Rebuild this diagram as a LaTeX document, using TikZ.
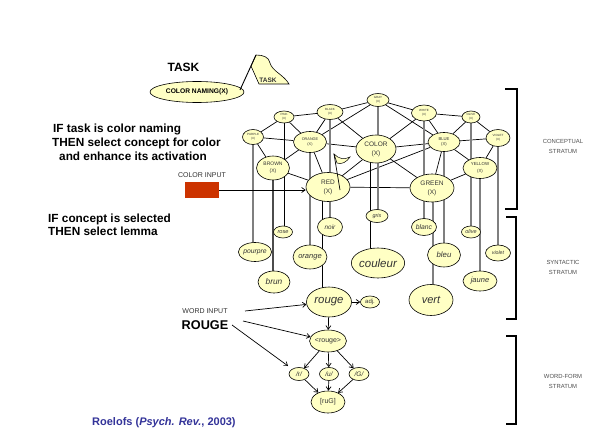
\documentclass[tikz,border=0pt]{standalone}
\usepackage{fontspec}
\setmainfont{Liberation Sans}
\usetikzlibrary{shapes.geometric,arrows.meta,backgrounds}
\newcommand{\fsz}[2]{\fontsize{#1}{#2}\selectfont}
\definecolor{ycol}{HTML}{FFFFC4}
\definecolor{txtc}{HTML}{333333}
\definecolor{redbox}{HTML}{CC3300}
\definecolor{citec}{HTML}{333399}
\definecolor{glin}{HTML}{7F7F7F}
\definecolor{stc}{HTML}{505050}
\begin{document}
\begin{tikzpicture}[x=1pt,y=-1pt,
  cn/.style 2 args={ellipse,draw,fill=ycol,line width=0.6pt,inner sep=0pt,
     minimum width=#1pt,minimum height=#2pt,text=txtc,align=center},
  cl/.style={line width=0.7pt},
  vl/.style={line width=1.1pt,draw=glin},
  vk/.style={line width=0.8pt,draw=black},
  ar/.style={-{Straight Barb[length=3.5pt,width=5pt]},line width=0.7pt},
  bigtxt/.style={font=\bfseries\fsz{11.8}{14},anchor=base west,inner sep=0pt},
  bkt/.style={line width=1.2pt},
  stl/.style={text=stc,font=\fsz{5.9}{10},align=center}]
\useasboundingbox (0,0) rectangle (592,444);

% task
\node[bigtxt,anchor=center,font=\bfseries\fsz{12}{14}] (tasklbl) at (183.5,67.5) {TASK};
\node[cn={94}{21},font=\bfseries\fsz{6.7}{8},text=black] (task) at (197,92) {COLOR NAMING(X)};
\draw[fill=ycol,line width=0.6pt] (256,55) .. controls (263,55) and (269,57) .. (270,63)
   .. controls (272,71) and (284,75) .. (289,84) -- (259,84) -- (251,66) -- cycle;
\node[font=\bfseries\fsz{6.5}{8},text=txtc,inner sep=0pt] (flagtxt) at (268,80) {TASK};
\draw[line width=0.9pt] (240,90) -- (256,55);

% rules text
\node[bigtxt] (if1) at (53,132) {IF task is color naming};
\node[bigtxt] (if2) at (52,146.5) {THEN select concept for color};
\node[bigtxt] (if3) at (59,160.5) {and enhance its activation};
\node[bigtxt] (if4) at (48,222) {IF concept is selected};
\node[bigtxt] (if5) at (48,235.5) {THEN select lemma};

% conceptual stratum
\node[cn={22}{13},font=\fsz{3}{3.8}] (GRAY) at (378,100) {GRAY\\(X)};
\node[cn={26}{15},font=\fsz{3}{3.8}] (BLACK) at (330,112) {BLACK\\(X)};
\node[cn={25}{16},font=\fsz{3}{3.8}] (WHITE) at (424,113) {WHITE\\(X)};
\node[cn={20}{12},font=\fsz{3}{3.8}] (PINK) at (284,117) {PINK\\(X)};
\node[cn={18}{12},font=\fsz{3}{3.8}] (OLIVE) at (471,117) {OLIVE\\(X)};
\node[cn={21}{15},font=\fsz{3}{3.8}] (PURPLE) at (253,137) {PURPLE\\(X)};
\node[cn={24}{17},font=\fsz{3}{3.8}] (VIOLET) at (498,138) {VIOLET\\(X)};
\node[cn={33}{21},font=\fsz{3.8}{5.5}] (ORANGE) at (310,142) {ORANGE\\(X)};
\node[cn={32}{19},font=\fsz{4.2}{5.5}] (BLUE) at (444,142) {BLUE\\(X)};
\node[cn={33}{24},font=\fsz{5}{7}] (BROWN) at (273,168) {BROWN\\(X)};
\node[cn={34}{21},font=\fsz{4.4}{6.5}] (YELLOW) at (480,168) {YELLOW\\(X)};
\node[cn={40}{28},font=\fsz{6.5}{9}] (COLOR) at (376,149) {COLOR\\(X)};
\node[cn={44}{29},font=\fsz{6.5}{9}] (RED) at (328,187) {RED\\(X)};
\node[cn={44}{28},font=\fsz{6.5}{9}] (GREEN) at (432,188) {GREEN\\(X)};

% syntactic stratum
\node[cn={25}{19},font=\itshape\fsz{6.8}{8}] (pourpre) at (255,252) {pourpre};
\node[cn={19}{12},font=\itshape\fsz{5.6}{7}] (rose) at (283,232) {rose};
\node[cn={25}{19},font=\itshape\fsz{6.4}{8}] (noir) at (330,227) {noir};
\node[cn={34}{24},font=\itshape\fsz{7.5}{9}] (orange) at (310,257) {orange};
\node[cn={32}{22},font=\itshape\fsz{8.3}{10}] (brun) at (274,282) {brun};
\node[cn={22}{13},font=\itshape\fsz{5.4}{7}] (gris) at (377,216) {gris};
\node[cn={43}{30},font=\itshape\fsz{11.5}{13}] (couleur) at (378,263) {couleur};
\node[cn={25}{17},font=\itshape\fsz{6.8}{8}] (blanc) at (424,227) {blanc};
\node[cn={19}{12},font=\itshape\fsz{5.5}{7}] (olive) at (471,232) {olive};
\node[cn={33}{24},font=\itshape\fsz{7.8}{9}] (bleu) at (444,255) {bleu};
\node[cn={25}{16},font=\itshape\fsz{5.2}{7}] (violet) at (498,253) {violet};
\node[cn={34}{20},font=\itshape\fsz{7.5}{9}] (jaune) at (480,281) {jaune};
\node[cn={44}{31},font=\itshape\fsz{11}{13}] (vert) at (431,300) {vert};
\node[cn={45}{30},font=\itshape\fsz{11.4}{13}] (rouge) at (329,302) {rouge};
\node[cn={19}{12},font=\fsz{6}{7}] (adj) at (370,302) {adj.};

% word-form stratum
\node[cn={34}{22},font=\fsz{7}{8}] (wrouge) at (328,341) {\textless rouge\textgreater};
\node[cn={20}{13},font=\itshape\fsz{6.5}{8}] (r) at (299,374) {/r/};
\node[cn={19}{13},font=\itshape\fsz{6.5}{8}] (u) at (329,374) {/u/};
\node[cn={20}{13},font=\itshape\fsz{6.5}{8}] (G) at (359,374) {/G/};
\node[cn={34}{22},font=\fsz{7}{8}] (ruG) at (328,402) {[ruG]};

% small flag on RED
\draw[fill=ycol,line width=0.5pt] (334,154) .. controls (339,159) and (344,160) .. (350,157)
   .. controls (347,162) and (341,165) .. (337,163) -- cycle;
\draw[line width=0.7pt] (340,190) -- (334,154);

% inputs
\node[fill=redbox,minimum width=34pt,minimum height=16pt,inner sep=0pt] (cin) at (202,190) {};
\node[text=txtc,font=\fsz{7}{8},inner sep=0pt] (cinlbl) at (202,175.5) {COLOR INPUT};
\draw[ar] (cin.east) -- (cin.east -| RED.west);
\node[text=txtc,font=\fsz{7}{8},inner sep=0pt] (wilbl) at (205,311.5) {WORD INPUT};
\node[font=\bfseries\fsz{12.7}{14},inner sep=0pt] (ROUGE) at (205,325) {ROUGE};
\coordinate (w1) at (245,311);
\coordinate (w2) at (243,321);
\coordinate (w3) at (232,325);
\draw[ar] (w1) -- (rouge);
\draw[ar] (w2) -- (wrouge);
\draw[ar,shorten >=5pt] (w3) -- (r);

% word-form arrows
\draw[ar] (rouge) -- (wrouge);
\draw[ar] (rouge) -- (adj);
\draw[ar] (wrouge) -- (r);
\draw[ar] (wrouge) -- (u);
\draw[ar] (wrouge) -- (G);
\draw[ar] (r) -- (ruG);
\draw[ar] (u) -- (ruG);
\draw[ar] (G) -- (ruG);

% strata brackets
\coordinate (b1a) at (505,89);  \coordinate (b1b) at (517,209);
\coordinate (b2a) at (506,217); \coordinate (b2b) at (516,319);
\coordinate (b3a) at (506,336); \coordinate (b3b) at (516,424);
\draw[bkt] (b1a) -- (b1a -| b1b) -- (b1b) -- (b1b -| b1a);
\draw[bkt] (b2a) -- (b2a -| b2b) -- (b2b) -- (b2b -| b2a);
\draw[bkt] (b3a) -- (b3a -| b3b) -- (b3b) -- (b3b -| b3a);
\node[stl] (s1) at (563,146.5) {CONCEPTUAL\\STRATUM};
\node[stl] (s2) at (563,267.5) {SYNTACTIC\\STRATUM};
\node[stl] (s3) at (563,381) {WORD-FORM\\STRATUM};

% citation
\node[anchor=base west,inner sep=0pt,text=citec,font=\bfseries\fsz{11}{13}] (cite) at (92,425)
  {Roelofs (\textit{Psych. Rev.}, 2003)};

\begin{scope}[on background layer]
\fill[white] (0,0) rectangle (592,444);
% conceptual links
\foreach \a/\b in {PINK/BLACK,PINK/PURPLE,PINK/ORANGE,PURPLE/ORANGE,PURPLE/BROWN,
  BROWN/ORANGE,BROWN/RED,ORANGE/RED,ORANGE/BLACK,ORANGE/COLOR,ORANGE/GRAY,
  BLACK/GRAY,BLACK/COLOR,GRAY/WHITE,GRAY/BLUE,WHITE/OLIVE,WHITE/BLUE,WHITE/COLOR,
  OLIVE/VIOLET,OLIVE/BLUE,BLUE/VIOLET,BLUE/COLOR,BLUE/YELLOW,BLUE/GREEN,BLUE/RED,
  VIOLET/YELLOW,YELLOW/GREEN,GREEN/COLOR,GREEN/RED,COLOR/RED}
  \draw[cl] (\a) -- (\b);
% concept to lemma links
\foreach \a/\b in {PURPLE/pourpre,ORANGE/orange,BLACK/noir,GRAY/gris,WHITE/blanc,
  BLUE/bleu,OLIVE/olive,YELLOW/jaune,VIOLET/violet}
  \draw[vl] (\a.center) -- (\a.center |- \b.center);
\draw[vk] (PINK.center) -- (PINK.center |- rose.center);
\draw[vl,draw=black!70] (BROWN.center) -- (BROWN.center |- brun.center);
\draw[vk] ([xshift=-6pt]COLOR.center) -- ([xshift=-6pt]COLOR.center |- couleur.center);
\draw[vk] ([xshift=-6pt]RED.center) -- ([xshift=-6pt]RED.center |- rouge.center);
\draw[vl] ([xshift=1pt]GREEN.center) -- ([xshift=1pt]GREEN.center |- vert.center);
\end{scope}
\end{tikzpicture}
\end{document}
